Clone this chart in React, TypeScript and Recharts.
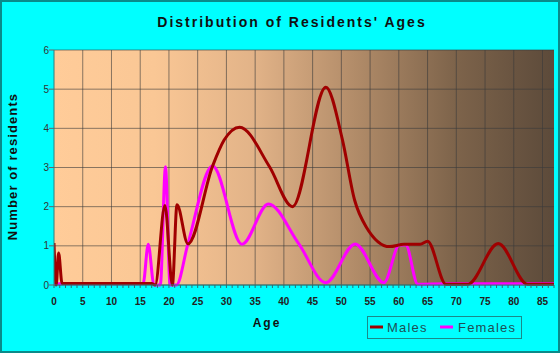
import React from 'react';
import { ComposedChart, Line, XAxis, YAxis, CartesianGrid, ReferenceLine } from 'recharts';

const maleAges = [0, 0.38, 0.8, 1.4, 5, 10, 15, 17, 17.6, 19.3, 20.6, 21.4, 23.3, 27.6, 29.6, 32.3, 37.5, 41.5, 47.3, 50.2, 52.3, 54.3, 58.4, 60.9, 63.7, 65.0, 68.2, 72.0, 77.3, 82.4, 87];
const maleCounts = [1.07, 0, 0.82, 0.04, 0.04, 0.04, 0.04, 0.04, 0, 2.03, 0, 2.05, 1.05, 3.04, 3.7, 4.03, 3.02, 2.0, 5.05, 3.7, 2.17, 1.49, 0.98, 1.04, 1.04, 1.12, 0.02, 0.02, 1.06, 0.02, 0.02];

const femaleAges = [0, 5, 10, 15, 15.5, 16.4, 17.4, 18.5, 19.4, 20.2, 21.3, 23.3, 27.6, 32.7, 37.3, 42.6, 47.3, 52.4, 57.4, 60.1, 61.2, 63.3, 68, 87];
const femaleCounts = [0.03, 0.03, 0.03, 0.03, 0.03, 1.04, 0, 0, 3.02, 0, 0, 1.05, 3.04, 1.04, 2.07, 1.05, 0.06, 1.05, 0.06, 1.02, 1.02, 0.02, 0.03, 0.03];

const xTicks = Array.from({ length: 88 }, (_, i) => i);
const xGridValues = [5, 10, 15, 20, 25, 30, 35, 40, 45, 50, 55, 60, 65, 70, 75, 80, 85];
const yTicks = [0, 1, 2, 3, 4, 5, 6];

const seriesNames = ['Males', 'Females'];
const seriesColors = ['#A00000', '#FF00FF'];

const titleText = "Distribution of Residents' Ages";
const xTitle = 'Age';
const yTitle = 'Number of residents';

const maleData = maleAges.map((a, i) => ({ age: a, count: maleCounts[i] }));
const femaleData = femaleAges.map((a, i) => ({ age: a, count: femaleCounts[i] }));

const FONT = 'Arial, "Liberation Sans", sans-serif';

const XTick = (props: any) => {
  const { x, y, payload } = props;
  if (payload.value % 5 !== 0) return <g />;
  return (
    <text x={x} y={y} dy="0.71em" textAnchor="middle" fontSize={10} fontWeight="bold" fill="#222" fontFamily={FONT}>
      {payload.value}
    </text>
  );
};

export default function App() {
  return (
    <div style={{ position: 'absolute', left: 0, top: 0, width: 560, height: 353, background: '#00FFFF' }}>
      <ComposedChart width={560} height={353} margin={{ top: 50, right: 6, bottom: 38, left: 0 }}>
        <defs>
          <linearGradient id="plotBg" x1="0" y1="0" x2="1" y2="0">
            <stop offset="0" stopColor="#FFCC99" />
            <stop offset="0.2" stopColor="#FAC795" />
            <stop offset="0.4" stopColor="#E2B388" />
            <stop offset="0.6" stopColor="#B28C69" />
            <stop offset="0.8" stopColor="#7E644B" />
            <stop offset="1" stopColor="#5C4A3A" />
          </linearGradient>
        </defs>
        <rect x={1} y={1} width={558} height={351} fill="none" stroke="#0A8A8A" strokeWidth={2} />
        <CartesianGrid vertical={false} fill="url(#plotBg)" fillOpacity={1} stroke="#3a3a3a" strokeOpacity={0.6} />
        {xGridValues.map((v) => (
          <ReferenceLine key={v} x={v} stroke="#3a3a3a" strokeOpacity={0.6} />
        ))}
        <XAxis
          dataKey="age"
          type="number"
          domain={[0, 87]}
          ticks={xTicks}
          interval={0}
          height={30}
          tickSize={3}
          tickMargin={10}
          tick={<XTick />}
          axisLine={{ stroke: '#2F7F7F' }}
          tickLine={{ stroke: '#2F6F6F' }}
          allowDataOverflow
        />
        <YAxis
          type="number"
          domain={[0, 6]}
          ticks={yTicks}
          interval={0}
          width={54}
          tickSize={5}
          tickMargin={0}
          tick={{ fontSize: 10, fill: '#333', fontFamily: FONT }}
          axisLine={{ stroke: '#2F7F7F' }}
          tickLine={{ stroke: '#666' }}
        />
        <Line data={femaleData} dataKey="count" name={seriesNames[1]} type="monotone" stroke={seriesColors[1]} strokeWidth={3} dot={false} isAnimationActive={false} />
        <Line data={maleData} dataKey="count" name={seriesNames[0]} type="monotone" stroke={seriesColors[0]} strokeWidth={3} dot={false} isAnimationActive={false} />
        <text x={292} y={27.3} textAnchor="middle" fontSize={14} fontWeight="bold" letterSpacing={2} fill="#111" fontFamily={FONT}>
          {titleText}
        </text>
        <text x={267} y={327.3} textAnchor="middle" fontSize={12} fontWeight="bold" letterSpacing={2} fill="#111" fontFamily={FONT}>
          {xTitle}
        </text>
        <text x={12} y={166.5} transform="rotate(-90 12 166.5)" dy="0.355em" textAnchor="middle" fontSize={13} fontWeight="bold" letterSpacing={1.1} fill="#111" fontFamily={FONT}>
          {yTitle}
        </text>
        <rect x={367.5} y={316.5} width={154} height={22} fill="none" stroke="#1A8A8A" strokeWidth={1} />
        <line x1={370} x2={383} y1={327} y2={327} stroke={seriesColors[0]} strokeWidth={3} />
        <text x={387} y={332} fontSize={13} letterSpacing={1.2} fill="#1E4F55" fontFamily={FONT}>{seriesNames[0]}</text>
        <line x1={440} x2={453} y1={327} y2={327} stroke={seriesColors[1]} strokeWidth={3} />
        <text x={458} y={332} fontSize={13} letterSpacing={1.2} fill="#1E4F55" fontFamily={FONT}>{seriesNames[1]}</text>
      </ComposedChart>
    </div>
  );
}
